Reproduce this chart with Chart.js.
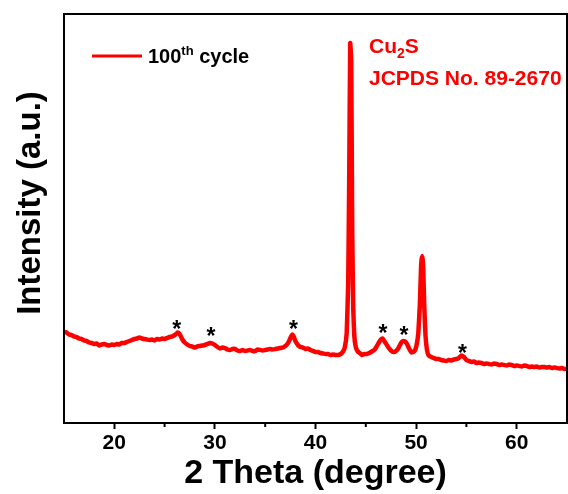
<!DOCTYPE html>
<html>
<head>
<meta charset="utf-8">
<script src="https://cdn.jsdelivr.net/npm/chart.js@4.4.1/dist/chart.umd.min.js"></script>
<style>
  html, body { margin: 0; padding: 0; background: #fff; }
  #wrap { width: 568px; height: 494px; }
</style>
</head>
<body>
<div id="wrap"><canvas id="c" width="568" height="494"></canvas></div>
<script>
// 2 theta (degree)
const twoTheta = [
  15, 15.25, 15.5, 15.75, 16, 16.25, 16.5, 16.75, 17, 17.25, 17.5, 17.75, 18, 18.25, 18.5, 18.75, 19, 19.25, 19.5, 19.75,
  20, 20.25, 20.5, 20.75, 21, 21.25, 21.5, 21.75, 22, 22.25, 22.5, 22.75, 23, 23.25, 23.5, 23.75, 24, 24.25, 24.5, 24.75,
  25, 25.25, 25.5, 25.75, 26, 26.15, 26.3, 26.45, 26.6, 26.8, 27, 27.25, 27.5, 27.75, 28, 28.25, 28.5, 28.75, 29, 29.25,
  29.5, 29.75, 30, 30.25, 30.5, 30.75, 31, 31.25, 31.5, 31.75, 32, 32.25, 32.5, 32.75, 33, 33.25, 33.5, 33.75, 34, 34.25,
  34.5, 34.75, 35, 35.25, 35.5, 35.75, 36, 36.25, 36.5, 36.75, 37, 37.2, 37.4, 37.55, 37.7, 37.85, 38, 38.25, 38.5, 38.75,
  39, 39.25, 39.5, 39.75, 40, 40.25, 40.5, 40.75, 41, 41.25, 41.5, 41.75, 42, 42.25, 42.5, 42.7, 42.9, 43.1, 43.25, 43.35,
  43.45, 43.55, 43.65, 43.75, 43.85, 44.0, 44.2, 44.4, 44.6, 44.85, 45.1, 45.35, 45.6, 45.85, 46.05, 46.3, 46.5, 46.65, 46.8, 47,
  47.25, 47.5, 47.75, 48, 48.25, 48.5, 48.7, 48.9, 49.1, 49.3, 49.55, 49.85, 50.05, 50.22, 50.38, 50.5, 50.6, 50.7, 50.8, 50.93,
  51.08, 51.25, 51.5, 51.75, 52, 52.25, 52.5, 52.75, 53, 53.25, 53.5, 53.75, 54, 54.25, 54.5, 54.75, 55, 55.25, 55.5, 55.75,
  56, 56.25, 56.5, 56.75, 57, 57.25, 57.5, 57.75, 58, 58.25, 58.5, 58.75, 59, 59.25, 59.5, 59.75, 60, 60.25, 60.5, 60.75,
  61, 61.25, 61.5, 61.75, 62, 62.25, 62.5, 62.75, 63, 63.25, 63.5, 63.75, 64, 64.25, 64.5, 64.75, 65
];
// intensity (a.u.)
const intensity = [
  910, 905, 885, 880, 865, 860, 845, 840, 825, 820, 805, 800, 790, 795, 775, 785, 790, 780, 775, 785,
  780, 790, 785, 800, 800, 810, 820, 830, 840, 845, 855, 845, 840, 835, 830, 835, 825, 840, 835, 845,
  840, 850, 860, 865, 880, 890, 905, 895, 870, 830, 805, 785, 770, 765, 755, 765, 770, 775, 780, 790,
  800, 795, 780, 760, 745, 755, 750, 735, 730, 740, 740, 725, 720, 730, 720, 725, 730, 720, 720, 735,
  730, 725, 730, 735, 740, 735, 740, 745, 750, 755, 770, 790, 825, 860, 885, 860, 820, 780, 760, 755,
  740, 745, 730, 720, 710, 710, 700, 695, 690, 690, 680, 685, 680, 680, 690, 710, 750, 900, 1400, 2430,
  3800, 3630, 1930, 1150, 880, 760, 715, 700, 680, 690, 690, 700, 715, 730, 760, 805, 835, 845, 825, 795,
  755, 725, 710, 720, 750, 800, 820, 815, 790, 745, 705, 720, 780, 900, 1200, 1580, 1670, 1580, 1200, 880,
  730, 675, 660, 650, 640, 640, 630, 625, 620, 630, 625, 635, 640, 650, 675, 660, 630, 620, 610, 615,
  600, 605, 600, 590, 595, 590, 585, 595, 590, 580, 585, 580, 575, 585, 580, 570, 575, 570, 565, 575,
  570, 560, 565, 560, 565, 555, 560, 560, 555, 560, 550, 555, 550, 545, 550, 540, 545
];
// impurity markers (*)
const starTheta = [26.2, 29.6, 37.8, 46.7, 48.8, 54.6];
const starLevel = [970, 900, 970, 930, 910, 730];

const xTicks = [20, 30, 40, 50, 60];
const xMinorTicks = [25, 35, 45, 55];

const FONT = "'Liberation Sans', Arial, sans-serif";

const decor = {
  id: 'decor',
  afterDatasetsDraw(chart) {
    const { ctx, chartArea: a, scales: { x, y } } = chart;
    ctx.save();
    // frame
    ctx.strokeStyle = '#000';
    ctx.lineWidth = 2;
    ctx.strokeRect(a.left, a.top, a.right - a.left, a.bottom - a.top);
    // minor ticks
    xMinorTicks.forEach(v => {
      const px = x.getPixelForValue(v);
      ctx.beginPath();
      ctx.moveTo(px, a.bottom);
      ctx.lineTo(px, a.bottom + 4);
      ctx.stroke();
    });
    // stars
    ctx.fillStyle = '#000';
    ctx.font = 'bold 23px ' + FONT;
    ctx.textAlign = 'center';
    ctx.textBaseline = 'middle';
    starTheta.forEach((t, i) => {
      ctx.fillText('*', x.getPixelForValue(t), y.getPixelForValue(starLevel[i]) + 5);
    });
    // y title
    ctx.save();
    ctx.translate(31, 203);
    ctx.rotate(-Math.PI / 2);
    ctx.font = 'bold 33px ' + FONT;
    ctx.fillText('Intensity (a.u.)', 0, 0);
    ctx.restore();
    // legend
    ctx.strokeStyle = 'red';
    ctx.lineWidth = 3;
    ctx.beginPath();
    ctx.moveTo(92, 56);
    ctx.lineTo(142, 56);
    ctx.stroke();
    ctx.textAlign = 'left';
    ctx.textBaseline = 'alphabetic';
    ctx.fillStyle = '#000';
    ctx.font = 'bold 20px ' + FONT;
    ctx.fillText('100', 148, 63);
    let w = ctx.measureText('100').width;
    ctx.font = 'bold 13px ' + FONT;
    ctx.fillText('th', 148 + w, 55);
    w += ctx.measureText('th').width;
    ctx.font = 'bold 20px ' + FONT;
    ctx.fillText(' cycle', 148 + w, 63);
    // phase label
    ctx.fillStyle = 'red';
    ctx.font = 'bold 21px ' + FONT;
    ctx.fillText('Cu', 369, 53);
    let cw = ctx.measureText('Cu').width;
    ctx.font = 'bold 14px ' + FONT;
    ctx.fillText('2', 369 + cw, 58);
    cw += ctx.measureText('2').width;
    ctx.font = 'bold 21px ' + FONT;
    ctx.fillText('S', 369 + cw, 53);
    ctx.fillText('JCPDS No. 89-2670', 369, 85);
    ctx.restore();
  }
};

new Chart(document.getElementById('c'), {
  type: 'line',
  data: {
    datasets: [{
      label: '100th cycle',
      data: twoTheta.map((t, i) => ({ x: t, y: intensity[i] })),
      borderColor: 'red',
      borderWidth: 4.5,
      pointRadius: 0,
      tension: 0.1,
      fill: false
    }]
  },
  options: {
    responsive: false,
    animation: false,
    layout: { padding: { top: 14, right: 1, left: 0, bottom: 0 } },
    plugins: { legend: { display: false }, tooltip: { enabled: false } },
    scales: {
      x: {
        type: 'linear',
        min: 15,
        max: 65,
        afterBuildTicks: s => { s.ticks = xTicks.map(v => ({ value: v })); },
        afterFit: s => { s.height = 71; },
        grid: { display: true, drawOnChartArea: false, drawTicks: true, tickLength: 6, tickWidth: 2, tickColor: '#000' },
        border: { display: true, color: '#000', width: 2 },
        ticks: { color: '#000', font: { family: FONT, size: 21, weight: 'bold' }, padding: 2 },
        title: { display: true, text: '2 Theta (degree)', color: '#000', font: { family: FONT, size: 34, weight: 'bold' }, padding: { top: 0, bottom: 0 } }
      },
      y: {
        min: 0,
        max: 4090,
        afterFit: s => { s.width = 64; },
        grid: { display: false },
        border: { display: true, color: '#000', width: 2 },
        ticks: { display: false },
        title: { display: false }
      }
    }
  },
  plugins: [decor]
});
</script>
</body>
</html>
